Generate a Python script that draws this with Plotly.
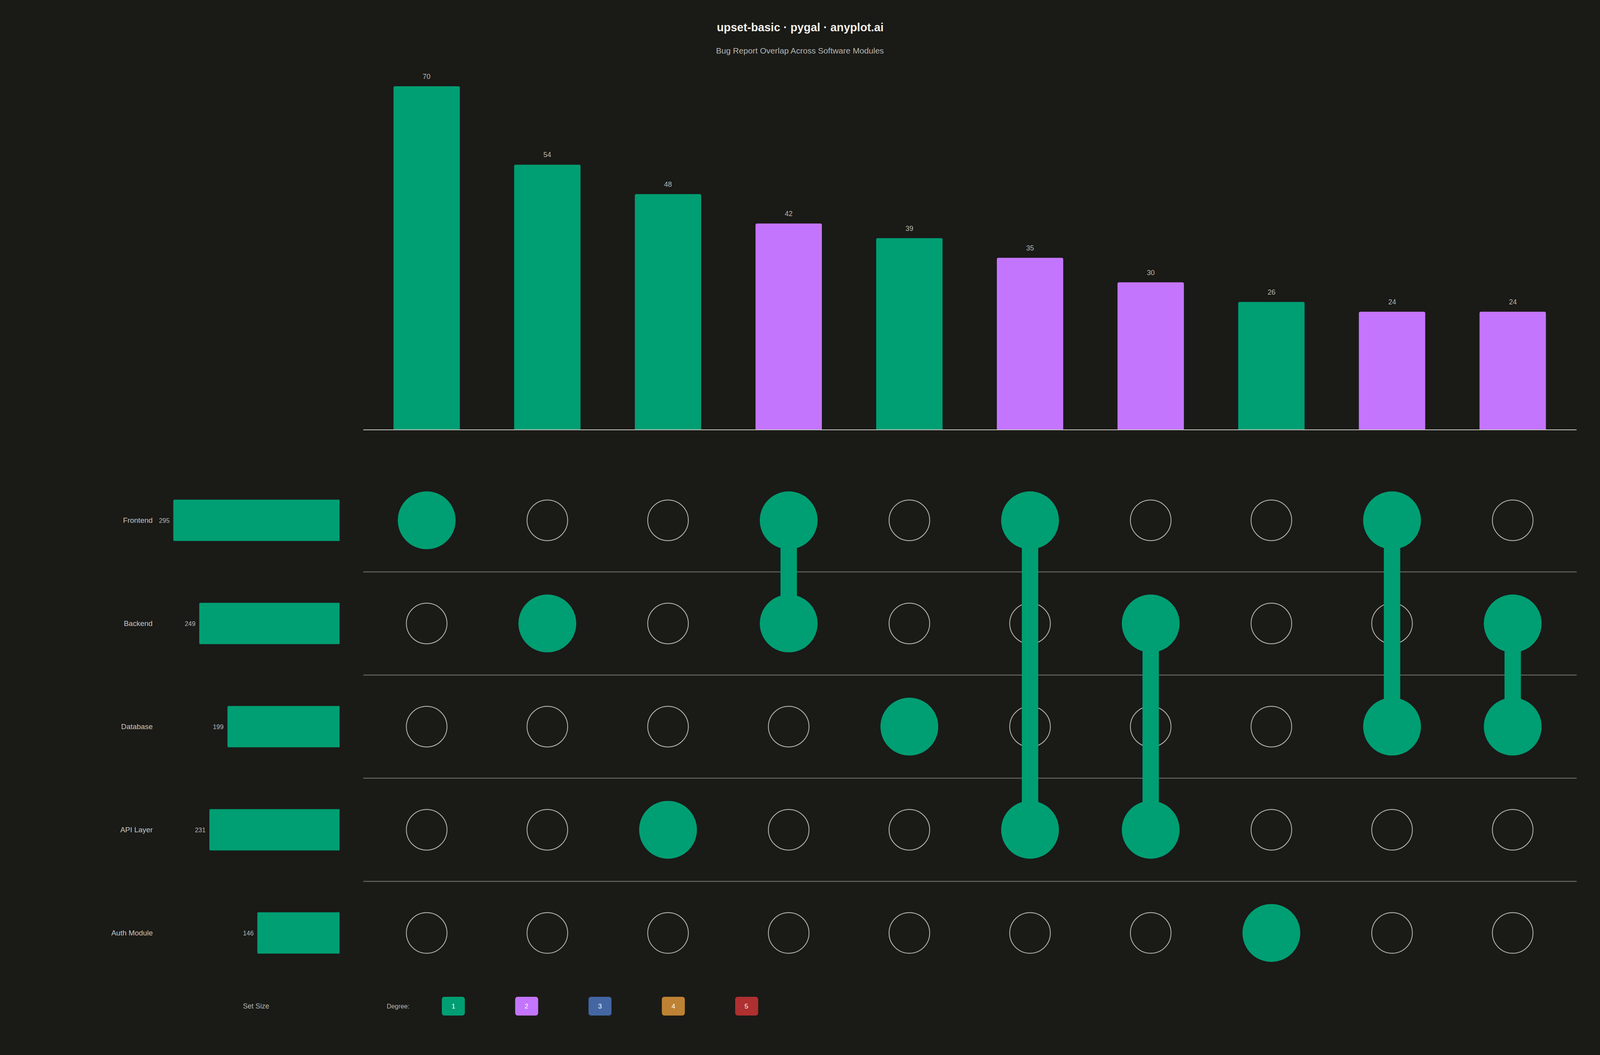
import plotly.graph_objects as go

# data
sets = ['Frontend', 'Backend', 'Database', 'API Layer', 'Auth Module']
set_sizes = [295, 249, 199, 231, 146]
intersections = [
    ['Frontend'], ['Backend'], ['API Layer'], ['Frontend', 'Backend'], ['Database'],
    ['Frontend', 'API Layer'], ['Backend', 'API Layer'], ['Auth Module'],
    ['Frontend', 'Database'], ['Backend', 'Database'],
]
counts = [70, 54, 48, 42, 39, 35, 30, 26, 24, 24]
degrees = [1, 2, 3, 4, 5]

# style
BG = '#1A1A17'
GREEN = '#009E73'
degree_colors = {1: '#009E73', 2: '#C475FD', 3: '#4467A3', 4: '#BD8233', 5: '#AE3030'}
FONT = 'Liberation Sans Narrow, Liberation Sans, Arial, sans-serif'
TEXT = '#C8C7C0'
MUTED = '#B8B7B0'

# positions measured on the 4800x2700 reference; the figure fills the window
W, H = 4800, 2700
S = 0.86  # px sizes (the window is about 4096 css px wide)
x_dom = [1090 / W, 4730 / W]
bar_dom = [0.5930, 0.9415]
mat_dom = [0.0668, 0.5557]
size_dom = [480 / W, 1019 / W]

cols = list(range(len(counts)))
rows = list(range(len(sets)))

fig = go.Figure()

# intersection bars
fig.add_trace(go.Bar(
    x=cols, y=counts, width=0.55,
    marker=dict(color=[degree_colors[len(s)] for s in intersections], line_width=0, cornerradius=4),
    xaxis='x', yaxis='y', showlegend=False, hoverinfo='skip',
))

# empty circles
ex, ey = [], []
for ci, members in enumerate(intersections):
    for ri, name in enumerate(sets):
        if name not in members:
            ex.append(ci)
            ey.append(ri)
fig.add_trace(go.Scatter(
    x=ex, y=ey, mode='markers',
    marker=dict(size=104, color='rgba(0,0,0,0)', line=dict(color='#B0AFA8', width=2.2)),
    xaxis='x2', yaxis='y2', showlegend=False, hoverinfo='skip',
))

# connecting lines
for ci, members in enumerate(intersections):
    if len(members) > 1:
        idx = [sets.index(m) for m in members]
        fig.add_trace(go.Scatter(
            x=[ci, ci], y=[min(idx), max(idx)], mode='lines',
            line=dict(color=GREEN, width=42),
            xaxis='x2', yaxis='y2', showlegend=False, hoverinfo='skip',
        ))

# filled dots
fx, fy = [], []
for ci, members in enumerate(intersections):
    for m in members:
        fx.append(ci)
        fy.append(sets.index(m))
fig.add_trace(go.Scatter(
    x=fx, y=fy, mode='markers',
    marker=dict(size=148, color=GREEN, line_width=0),
    xaxis='x2', yaxis='y2', showlegend=False, hoverinfo='skip',
))

# set size bars
fig.add_trace(go.Bar(
    x=set_sizes, y=rows, orientation='h', width=0.4,
    marker=dict(color=GREEN, line_width=0, cornerradius=3),
    xaxis='x3', yaxis='y3', showlegend=False, hoverinfo='skip',
))

shapes = []
annotations = []

# count labels above bars
for ci, c in enumerate(counts):
    annotations.append(dict(text=str(c), xref='x', yref='y', x=ci, y=c, yshift=25,
                            xanchor='center', yanchor='middle', showarrow=False,
                            font=dict(size=21 * S, color=MUTED, family=FONT)))

# set size labels
for ri, v in enumerate(set_sizes):
    annotations.append(dict(text=str(v), xref='x3', yref='y3', x=v, y=ri, xshift=-8,
                            xanchor='right', yanchor='middle', showarrow=False,
                            font=dict(size=19 * S, color=MUTED, family=FONT)))

# row separators
for i in range(len(sets) - 1):
    shapes.append(dict(type='line', xref='x2 domain', yref='y2', x0=0, x1=1, y0=i + 0.5, y1=i + 0.5,
                       line=dict(color='#6E6E68', width=2.2), layer='below'))

# row labels
for ri, name in enumerate(sets):
    annotations.append(dict(text=name, xref='paper', yref='y2', x=460 / W, y=ri, xanchor='right',
                            yanchor='middle', showarrow=False,
                            font=dict(size=22 * S, color=TEXT, family=FONT)))

# titles
annotations.append(dict(text='<b>upset-basic · pygal · anyplot.ai</b>', xref='paper', yref='paper',
                        x=0.5, y=1 - 70 / H, xanchor='center', yanchor='middle', showarrow=False,
                        font=dict(size=34 * S, color='#F0EFE8', family=FONT)))
annotations.append(dict(text='Bug Report Overlap Across Software Modules', xref='paper', yref='paper',
                        x=0.5, y=1 - 129 / H, xanchor='center', yanchor='middle', showarrow=False,
                        font=dict(size=24.5 * S, color=MUTED, family=FONT)))

# bottom labels and degree legend
leg_y = 1 - 2575 / H
annotations.append(dict(text='Set Size', xref='paper', yref='paper', x=768 / W, y=leg_y,
                        xanchor='center', yanchor='middle', showarrow=False,
                        font=dict(size=21 * S, color=MUTED, family=FONT)))
annotations.append(dict(text='Degree:', xref='paper', yref='paper', x=1194 / W, y=leg_y,
                        xanchor='center', yanchor='middle', showarrow=False,
                        font=dict(size=19 * S, color=MUTED, family=FONT)))


def rounded_box(cx, cy, bw, bh, r):
    # path in paper coords from reference-canvas pixels
    x0, x1 = (cx - bw / 2) / W, (cx + bw / 2) / W
    y0, y1 = 1 - (cy + bh / 2) / H, 1 - (cy - bh / 2) / H
    rx, ry = r / W, r / H
    return (f'M {x0 + rx},{y0} L {x1 - rx},{y0} Q {x1},{y0} {x1},{y0 + ry} '
            f'L {x1},{y1 - ry} Q {x1},{y1} {x1 - rx},{y1} L {x0 + rx},{y1} '
            f'Q {x0},{y1} {x0},{y1 - ry} L {x0},{y0 + ry} Q {x0},{y0} {x0 + rx},{y0} Z')


for k, d in enumerate(degrees):
    cx = 1360 + k * 220
    shapes.append(dict(type='path', xref='paper', yref='paper', line_width=0,
                       fillcolor=degree_colors[d], path=rounded_box(cx, 2575, 69, 48, 8)))
    annotations.append(dict(text=str(d), xref='paper', yref='paper', x=cx / W, y=leg_y,
                            xanchor='center', yanchor='middle', showarrow=False,
                            font=dict(size=20 * S, color='#FFFFFF', family=FONT)))

hidden = dict(showgrid=False, zeroline=False, showticklabels=False, ticks='', showline=False)

fig.update_layout(
    autosize=True,
    paper_bgcolor=BG, plot_bgcolor=BG,
    margin=dict(l=0, r=0, t=0, b=0),
    font=dict(family=FONT, color=TEXT),
    xaxis=dict(domain=x_dom, range=[-0.525, 9.53], showgrid=False, zeroline=False,
               showticklabels=False, ticks='', showline=True, linecolor='#C8C7C0', linewidth=2.2),
    yaxis=dict(domain=bar_dom, range=[0, 75], **hidden),
    xaxis2=dict(domain=x_dom, range=[-0.525, 9.53], anchor='y2', **hidden),
    yaxis2=dict(domain=mat_dom, range=[4.5, -0.5], anchor='x2', **hidden),
    xaxis3=dict(domain=size_dom, range=[318.6, 0], anchor='y3', **hidden),
    yaxis3=dict(domain=mat_dom, range=[4.5, -0.5], anchor='x3', **hidden),
    shapes=shapes,
    annotations=annotations,
)

fig.write_html(
    'out.html',
    config={'displayModeBar': False, 'responsive': True},
    default_width='100vw', default_height='100vh',
    post_script="document.body.style.margin='0';document.body.style.background='" + BG + "';"
                "document.body.style.overflow='hidden';"
                "Plotly.Plots.resize(document.getElementById('{plot_id}'));",
)
